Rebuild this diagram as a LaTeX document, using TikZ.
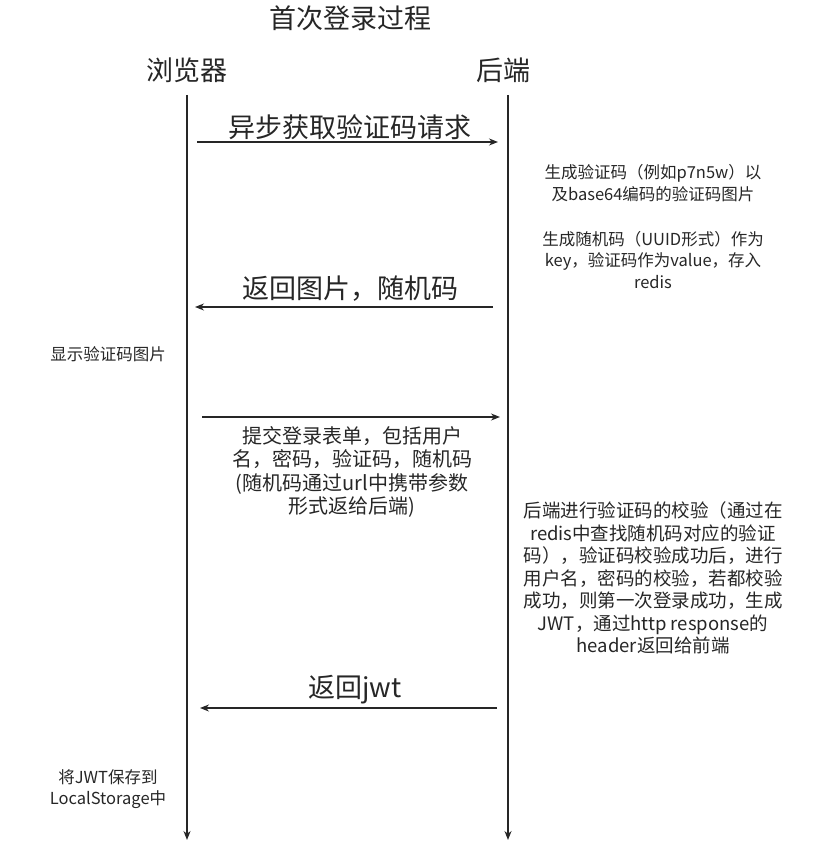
\documentclass[tikz,border=0pt]{standalone}
\usepackage{fontspec}
\setmainfont{Noto Sans CJK SC}
\usetikzlibrary{arrows.meta}
\begin{document}
\begin{tikzpicture}[x=1pt,y=-1pt,
  line/.style={draw=black!85,line width=1.3pt,-{Stealth[length=9pt,width=7pt]}},
  big/.style={font=\fontsize{27}{30}\selectfont,text=black!85,inner sep=0},
  small/.style={font=\fontsize{16.5}{21.5}\selectfont,text=black!85,align=center,inner sep=0},
  mid/.style={font=\fontsize{20}{23.5}\selectfont,text=black!85,align=center,inner sep=0},
  right/.style={font=\fontsize{18.5}{22.5}\selectfont,text=black!85,align=center,inner sep=0}]
\useasboundingbox (0,0) rectangle (819,858);
\node[big] (title) at (350,18) {首次登录过程};
\node[big] (browser) at (187,70) {浏览器};
\node[big] (backend) at (503,70) {后端};
\coordinate (b0) at (187,95); \coordinate (b1) at (187,840);
\coordinate (s0) at (508,95); \coordinate (s1) at (508,840);
\draw[line] (b0) -- (b1);
\draw[line] (s0) -- (s1);
\coordinate (a1s) at (197,142); \coordinate (a1e) at (498,142);
\draw[line] (a1s) -- (a1e);
\node[big] (l1) at (350,127) {异步获取验证码请求};
\node[small] (t1) at (653,183) {生成验证码（例如p7n5w）以\\及base64编码的验证码图片};
\node[small] (t2) at (653,260) {生成随机码（UUID形式）作为\\key，验证码作为value，存入\\redis};
\coordinate (a2s) at (493,307); \coordinate (a2e) at (195,307);
\draw[line] (a2s) -- (a2e);
\node[big] (l2) at (350,289) {返回图片，随机码};
\node[small] (t3) at (108,354) {显示验证码图片};
\coordinate (a3s) at (202,417); \coordinate (a3e) at (500,417);
\draw[line] (a3s) -- (a3e);
\node[mid] (l3) at (352,472) {提交登录表单，包括用户\\名，密码，验证码，随机码\\(随机码通过url中携带参数\\形式返给后端)};
\node[right] (t4) at (653,578) {后端进行验证码的校验（通过在\\redis中查找随机码对应的验证\\码），验证码校验成功后，进行\\用户名，密码的校验，若都校验\\成功，则第一次登录成功，生成\\JWT，通过http response的\\header返回给前端};
\coordinate (a4s) at (497,708); \coordinate (a4e) at (200,708);
\draw[line] (a4s) -- (a4e);
\node[big] (l4) at (355,690) {返回jwt};
\node[small] (t5) at (108,789) {将JWT保存到\\LocalStorage中};
\end{tikzpicture}
\end{document}
